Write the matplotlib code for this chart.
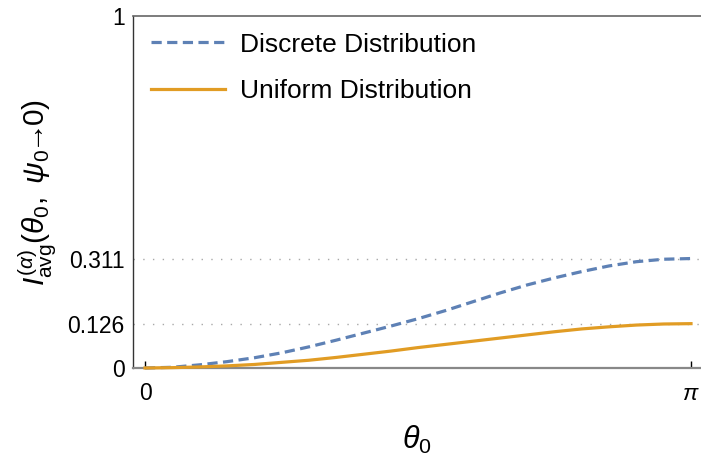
import numpy as np
import matplotlib
matplotlib.use("Agg")
import matplotlib.pyplot as plt

plt.rcParams['font.family'] = ['Liberation Sans', 'DejaVu Sans']
plt.rcParams['mathtext.fontset'] = 'custom'
plt.rcParams['mathtext.rm'] = 'Liberation Sans'
plt.rcParams['mathtext.it'] = 'Liberation Sans:italic'
plt.rcParams['mathtext.bf'] = 'Liberation Sans:bold'

# theta0 as fraction of pi
theta_frac = [0.0, 0.05, 0.1, 0.15, 0.2, 0.25, 0.3, 0.35, 0.4, 0.45, 0.5,
              0.55, 0.6, 0.65, 0.7, 0.75, 0.8, 0.85, 0.9, 0.95, 1.0]
discrete = [0.0, 0.002, 0.009, 0.018, 0.029, 0.043, 0.060, 0.079, 0.099, 0.119, 0.140,
            0.163, 0.188, 0.213, 0.236, 0.256, 0.274, 0.290, 0.302, 0.309, 0.311]
uniform = [0.0, 0.001, 0.003, 0.006, 0.010, 0.016, 0.022, 0.030, 0.039, 0.048, 0.058,
           0.067, 0.076, 0.085, 0.094, 0.103, 0.111, 0.117, 0.122, 0.125, 0.126]
y_ticks = [0, 0.126, 0.311, 1]
y_tick_labels = ["0", "0.126", "0.311", "1"]
x_ticks = [0, np.pi]
x_tick_labels = ["0", r"$\pi$"]
series_labels = ["Discrete Distribution", "Uniform Distribution"]

W, H = 701, 458
fig = plt.figure(figsize=(W / 100, H / 100), dpi=100)
ax = fig.add_axes([133 / W, (H - 368) / H, (W - 133) / W, 352 / H])

theta = np.array(theta_frac) * np.pi
blue = '#5E81B5'
orange = '#E19C24'

for yv in [0.126, 0.311]:
    ax.axhline(yv, color='#a8a8a8', lw=1.0, linestyle=(0, (1, 6)), zorder=1)

ax.plot(theta, discrete, color=blue, lw=2.3, linestyle=(0, (3.2, 1.7)),
        label=series_labels[0], zorder=3, clip_on=False)
ax.plot(theta, uniform, color=orange, lw=2.3, label=series_labels[1], zorder=3,
        clip_on=False)

px = np.pi / 546.0
ax.set_xlim(-12 * px, np.pi + 10 * px)
ax.set_ylim(0, 1)

ax.set_xticks(x_ticks)
ax.set_xticklabels(x_tick_labels)
ax.set_yticks(y_ticks)
ax.set_yticklabels(y_tick_labels)
ax.tick_params(axis='x', direction='in', length=5, width=1, color='black',
               labelsize=16.5, pad=10)
ax.tick_params(axis='y', direction='in', length=0, labelsize=16.5, pad=6)

ax.spines['right'].set_visible(False)
ax.spines['top'].set_color('#666666')
ax.spines['top'].set_linewidth(1.2)
ax.spines['left'].set_color('#333333')
ax.spines['left'].set_linewidth(1.0)
ax.spines['bottom'].set_color('#888888')
ax.spines['bottom'].set_linewidth(1.6)

ax.set_xlabel(r"$\theta_0$", fontsize=22, labelpad=14)
ax.set_ylabel(r"$I^{(\alpha)}_{\mathrm{avg}}(\theta_0,\ \psi_0\!\!\rightarrow\!\!0)$",
              fontsize=21.5, labelpad=6)

leg = ax.legend(loc='upper left', bbox_to_anchor=(0.0, 1.005), frameon=False,
                fontsize=19, handlelength=2.8, handletextpad=0.55,
                labelspacing=0.85, borderaxespad=0.3)

fig.savefig("out.png", dpi=100)
